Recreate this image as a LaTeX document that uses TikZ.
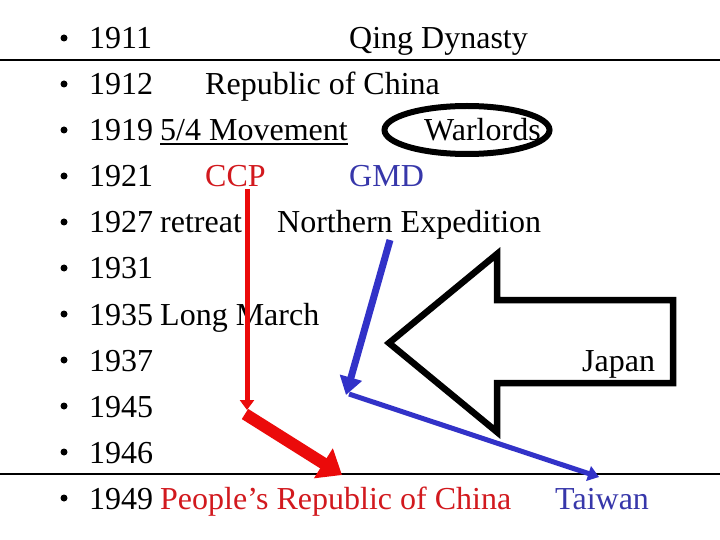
\documentclass[tikz,border=0pt]{standalone}
\usepackage{fontspec}
\setmainfont{Liberation Serif}
\usetikzlibrary{arrows.meta,shapes.geometric}
\definecolor{cred}{RGB}{235,10,10}
\definecolor{tred}{RGB}{210,25,30}
\definecolor{cblue}{RGB}{50,50,200}
\definecolor{tblue}{RGB}{55,55,170}
\begin{document}
\begin{tikzpicture}[x=1bp,y=-1bp,
  txt/.style={anchor=base west,inner sep=0pt,font=\fontsize{32bp}{38bp}\selectfont},
  bul/.style={circle,fill=black,inner sep=0pt,minimum size=7bp}]
\useasboundingbox (0,0) rectangle (720,540);
\fill[white] (0,0) rectangle (720,540);
% rules
\draw[line width=1.4bp] (0,60) -- (720,60);
\draw[line width=1.4bp] (0,474) -- (720,474);
% bullets and years
\foreach \y/\yr [count=\i] in {49/1911,95/1912,141/1919,187/1921,233/1927,279/1931,325/1935,371/1937,417/1945,463/1946,509/1949}{
  \node[bul] (b\i) at (64,\y-11) {};
  \node[txt] (y\i) at (89,\y) {\yr};
}
\node[txt] (qing) at (349,49) {Qing Dynasty};
\node[txt] (roc) at (205,95) {Republic of China};
\node[txt] (may4) at (160,141) {5/4 Movement};
\draw[line width=1.4bp] (may4.base west) ++(0,3) coordinate (u1) -- (u1 -| may4.base east);
\node[txt] (war) at (424,141) {Warlords};
\node[draw,line width=6bp,ellipse,minimum width=165bp,minimum height=48bp,inner sep=0pt] (ell) at (467,130) {};
\node[txt,text=tred] (ccp) at (205,187) {CCP};
\node[txt,text=tblue] (gmd) at (349,187) {GMD};
\node[txt] (retreat) at (160,233) {retreat};
\node[txt] (north) at (277,233) {Northern Expedition};
\node[txt] (long) at (160,325) {Long March};
\node[txt] (japan) at (582,371) {Japan};
\node[txt,text=tred] (prc) at (160,509) {People’s Republic of China};
\node[txt,text=tblue] (tw) at (555,509) {Taiwan};
% block arrow (Japan)
\draw[line width=6.5bp,miter limit=10] (389,343) -- (497,254) -- (497,300) -- (673,300) -- (673,383) -- (497,383) -- (497,432) -- cycle;
% red CCP path
\coordinate (r1) at (247,189);
\coordinate (r2) at (247,410);
\coordinate (r3) at (245,414);
\coordinate (r4) at (342,475);
\draw[cred,line width=5bp,-{Triangle[length=10bp,width=14bp]}] (r1) -- (r2);
\draw[cred,line width=12bp,-{Triangle[length=22bp,width=34bp]}] (r3) -- (r4);
% blue GMD path
\coordinate (g1) at (390,240);
\coordinate (g2) at (346,395);
\coordinate (g3) at (349,394);
\coordinate (g4) at (599,477);
\draw[cblue,line width=7bp,-{Triangle[length=18bp,width=22bp]}] (g1) -- (g2);
\draw[cblue,line width=5bp,-{Triangle[length=11bp,width=15bp]}] (g3) -- (g4);
\end{tikzpicture}
\end{document}
